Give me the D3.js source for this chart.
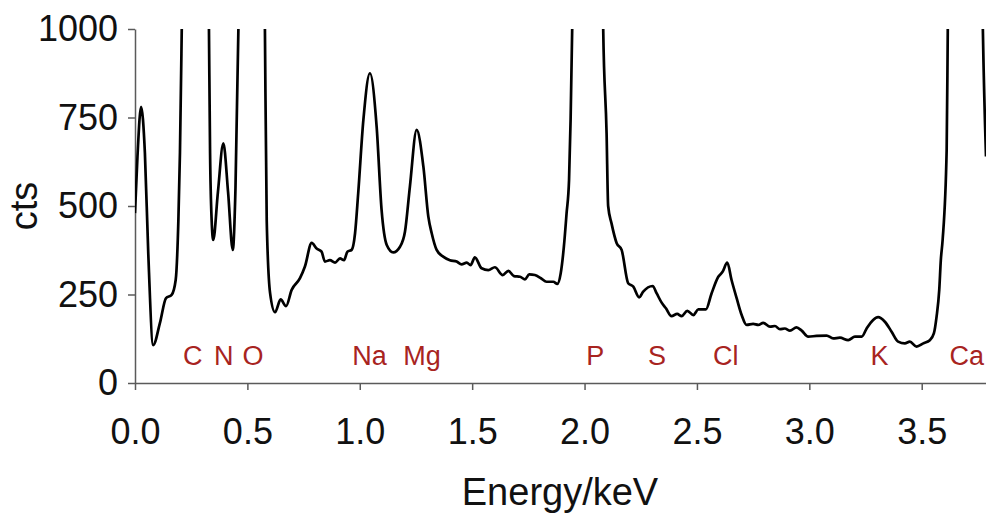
<!DOCTYPE html>
<html>
<head>
<meta charset="utf-8">
<script src="https://cdn.jsdelivr.net/npm/d3@7"></script>
<style>
  html, body { margin: 0; padding: 0; background: #fff; }
  svg { display: block; font-family: "Liberation Sans", Arial, Helvetica, sans-serif; }
</style>
</head>
<body>
<svg id="chart" width="986" height="516"></svg>
<script>
// EDS spectrum: energy (keV) and counts; the tallest peaks run off the top of the 0–1000 window.
const energy = [
  0, 0.011, 0.027, 0.044, 0.059, 0.081, 0.111, 0.138, 0.163, 0.181, 0.193, 0.200, 0.208,
  0.235, 0.270, 0.305,
  0.329, 0.334, 0.341, 0.348, 0.369, 0.393, 0.414, 0.435, 0.447, 0.460,
  0.480, 0.520, 0.560,
  0.578, 0.586, 0.601, 0.623, 0.648, 0.672, 0.697, 0.734, 0.756, 0.786, 0.808, 0.830,
  0.845, 0.867, 0.890, 0.912, 0.930, 0.945, 0.964, 0.979, 0.993, 1.016, 1.045, 1.075,
  1.097, 1.120, 1.149, 1.179, 1.201, 1.223, 1.253, 1.283, 1.305, 1.320, 1.342, 1.371,
  1.401, 1.431, 1.453, 1.476, 1.493, 1.512, 1.542, 1.572, 1.601, 1.636, 1.661, 1.686,
  1.713, 1.735, 1.754, 1.779, 1.806, 1.831, 1.861, 1.879, 1.894, 1.908, 1.920, 1.931,
  1.938, 1.945,
  1.970, 2.013, 2.060,
  2.083, 2.098, 2.105, 2.120, 2.143, 2.165, 2.194, 2.217, 2.243, 2.261, 2.303, 2.321,
  2.343, 2.362, 2.387, 2.412, 2.432, 2.457, 2.484, 2.506, 2.540, 2.565, 2.595, 2.614,
  2.635, 2.654, 2.677, 2.699, 2.721, 2.750, 2.773, 2.795, 2.825, 2.847, 2.869, 2.891,
  2.914, 2.943, 2.966, 2.995, 3.032, 3.077, 3.106, 3.136, 3.173, 3.203, 3.233, 3.255,
  3.284, 3.306, 3.336, 3.366, 3.395, 3.425, 3.447, 3.477, 3.507, 3.536, 3.554, 3.566,
  3.578, 3.585, 3.593, 3.611, 3.616,
  3.650, 3.690, 3.740,
  3.772, 3.786
];
const counts = [
  480, 640, 780, 650, 367, 107, 170, 240, 249, 291, 460, 650, 1000,
  2500, 5000, 2500,
  1000, 650, 460, 404, 540, 677, 540, 376, 550, 1000,
  2500, 6000, 2500,
  1000, 460, 254, 200, 236, 217, 263, 296, 329, 396, 380, 371,
  343, 347, 340, 352, 347, 371, 376, 423, 536, 743, 875, 724,
  489, 390, 369, 385, 427, 555, 715, 611, 470, 423, 376, 357,
  347, 343, 335, 340, 333, 355, 324, 319, 327, 305, 317, 302,
  300, 293, 307, 305, 296, 286, 286, 280, 310, 385, 479, 573,
  745, 1000,
  3000, 8000, 3000,
  1000, 706, 500, 451, 395, 376, 282, 272, 242, 258, 274, 253,
  227, 211, 189, 195, 189, 204, 192, 208, 208, 253, 300, 314,
  340, 291, 239, 192, 164, 167, 164, 170, 159, 161, 152, 154,
  148, 157, 148, 131, 133, 134, 126, 128, 121, 131, 131, 154,
  178, 186, 173, 145, 117, 112, 117, 103, 112, 121, 140, 187,
  263, 347, 404, 658, 1000,
  3000, 9000, 3000,
  1000, 640
];

// Element line labels
const elements = ["C", "N", "O", "Na", "Mg", "P", "S", "Cl", "K", "Ca"];
const elementEnergy = [0.257, 0.395, 0.525, 1.043, 1.277, 2.048, 2.322, 2.628, 3.312, 3.70];

// Axis ticks
const xTicks = [0.0, 0.5, 1.0, 1.5, 2.0, 2.5, 3.0, 3.5];
const yTicks = [0, 250, 500, 750, 1000];

const svg = d3.select("#chart");
const margin = { left: 135, top: 29, right: 0, bottom: 133 };
const W = 986, H = 516;

const x = d3.scaleLinear().domain([0, 3.786]).range([margin.left, W - margin.right]);
const y = d3.scaleLinear().domain([0, 1000]).range([H - margin.bottom, margin.top]);

const axisColor = "#5a5a5a";

// Plot clip so off-scale peaks are cut at the top of the window
svg.append("defs").append("clipPath").attr("id", "plot-clip")
  .append("rect")
  .attr("x", margin.left)
  .attr("y", margin.top)
  .attr("width", W - margin.left)
  .attr("height", (H - margin.bottom) - margin.top + 2);

// Axes
const xAxis = svg.append("g")
  .attr("transform", `translate(0,${y(0)})`)
  .call(d3.axisBottom(x).tickValues(xTicks).tickFormat(d3.format(".1f"))
    .tickSize(7).tickSizeOuter(0).tickPadding(28));
const yAxis = svg.append("g")
  .attr("transform", `translate(${x(0)},0)`)
  .call(d3.axisLeft(y).tickValues(yTicks).tickFormat(d3.format("d"))
    .tickSize(7).tickSizeOuter(0).tickPadding(10));

[xAxis, yAxis].forEach(g => {
  g.select(".domain").attr("stroke", axisColor).attr("stroke-width", 1.5);
  g.selectAll(".tick line").attr("stroke", axisColor).attr("stroke-width", 1.5);
  g.selectAll(".tick text").attr("fill", "#111").style("font-size", "36px")
    .style("font-family", "'Liberation Sans', Arial, Helvetica, sans-serif");
});

// Spectrum line
const points = energy.map((e, i) => [e, counts[i]]);
const line = d3.line()
  .x(d => x(d[0]))
  .y(d => y(d[1]))
  .curve(d3.curveMonotoneX);

svg.append("path")
  .datum(points)
  .attr("clip-path", "url(#plot-clip)")
  .attr("fill", "none")
  .attr("stroke", "#000")
  .attr("stroke-width", 2.7)
  .attr("stroke-linejoin", "round")
  .attr("d", line);

// Element labels
svg.append("g").selectAll("text")
  .data(elements)
  .join("text")
  .attr("x", (d, i) => x(elementEnergy[i]))
  .attr("y", 365)
  .attr("text-anchor", "middle")
  .attr("fill", "#a8241f")
  .style("font-size", "27px")
  .text(d => d);

// Axis titles
svg.append("text")
  .attr("x", 560)
  .attr("y", 505)
  .attr("text-anchor", "middle")
  .attr("fill", "#111")
  .style("font-size", "38px")
  .text("Energy/keV");

svg.append("text")
  .attr("transform", `translate(37,206) rotate(-90)`)
  .attr("text-anchor", "middle")
  .attr("fill", "#111")
  .style("font-size", "38px")
  .text("cts");
</script>
</body>
</html>
